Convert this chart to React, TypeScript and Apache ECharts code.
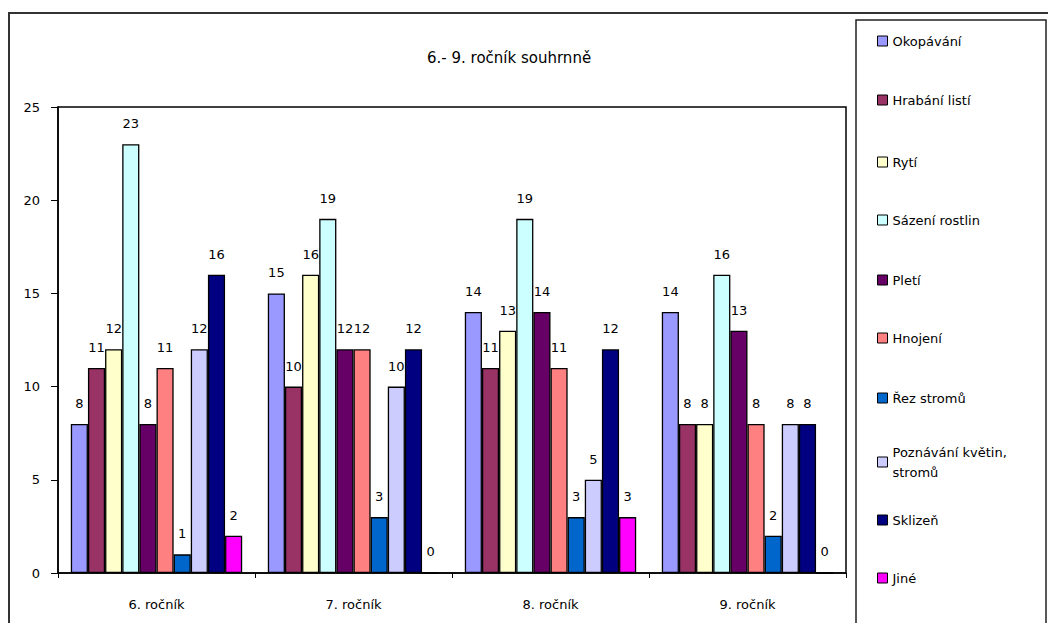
import React, { useEffect, useRef } from "react";
import * as echarts from "echarts";

const categories = ["6. ročník", "7. ročník", "8. ročník", "9. ročník"];
const seriesNames = [
  "Okopávání",
  "Hrabání listí",
  "Rytí",
  "Sázení rostlin",
  "Pletí",
  "Hnojení",
  "Řez stromů",
  "Poznávání květin, stromů",
  "Sklizeň",
  "Jiné",
];
const okopavani = [8, 15, 14, 14];
const hrabani = [11, 10, 11, 8];
const ryti = [12, 16, 13, 8];
const sazeni = [23, 19, 19, 16];
const pleti = [8, 12, 14, 13];
const hnojeni = [11, 12, 11, 8];
const rez = [1, 3, 3, 2];
const poznavani = [12, 10, 5, 8];
const sklizen = [16, 12, 12, 8];
const jine = [2, 0, 3, 0];
const seriesValues = [okopavani, hrabani, ryti, sazeni, pleti, hnojeni, rez, poznavani, sklizen, jine];
const colors = ["#9999FF", "#993366", "#FFFFCC", "#CCFFFF", "#660066", "#FF8080", "#0066CC", "#CCCCFF", "#000080", "#FF00FF"];
const yTicks = [0, 5, 10, 15, 20, 25];
const title = "6.- 9. ročník souhrnně";

const FONT = "DejaVu Sans";

export default function App() {
  const ref = useRef<HTMLDivElement>(null);
  useEffect(() => {
    if (!ref.current) return;
    const chart = echarts.init(ref.current, undefined, { renderer: "svg" });
    const legendCenters = [41, 100, 162, 220, 280, 338, 398, 462, 520, 578];
    const legends = seriesNames.map((name, i) => {
      const two = name.indexOf(",") >= 0;
      return {
        data: [name],
        orient: "vertical",
        left: 877,
        top: two ? legendCenters[i] - 30 : legendCenters[i] - 8,
        itemWidth: 10,
        itemHeight: 10,
        itemGap: 0,
        padding: 0,
        icon: "rect",
        selectedMode: false,
        itemStyle: { borderColor: "#000", borderWidth: 1 },
        formatter: (n: string) => (n.indexOf(",") >= 0 ? n.replace(", ", ",\n") : n),
        textStyle: two
          ? { fontFamily: FONT, fontSize: 13, color: "#000", lineHeight: 20, padding: [20, 0, 0, 0] }
          : { fontFamily: FONT, fontSize: 13, color: "#000", lineHeight: 16 },
      };
    });
    chart.setOption({
      animation: false,
      backgroundColor: "#fff",
      textStyle: { fontFamily: FONT },
      title: {
        text: title,
        left: 427,
        top: 50,
        padding: 0,
        textStyle: { fontFamily: FONT, fontSize: 15, fontWeight: "normal", color: "#000" },
      },
      legend: legends,
      graphic: [
        {
          type: "rect",
          shape: { x: 9, y: 13, width: 1100, height: 700 },
          style: { fill: "none", stroke: "#333", lineWidth: 2 },
          silent: true,
        },
        {
          type: "rect",
          shape: { x: 856, y: 20, width: 190, height: 610 },
          style: { fill: "none", stroke: "#222", lineWidth: 1.5 },
          silent: true,
        },
      ],
      grid: {
        left: 58,
        right: 202,
        top: 107,
        bottom: 50,
        show: true,
        borderColor: "#000",
        borderWidth: 1.5,
        backgroundColor: "transparent",
      },
      xAxis: {
        type: "category",
        data: categories,
        axisLine: { lineStyle: { color: "#000", width: 1.5 } },
        axisTick: { show: true, length: 5, lineStyle: { color: "#000" } },
        axisLabel: { color: "#000", fontSize: 13, fontFamily: FONT, margin: 25 },
      },
      yAxis: {
        type: "value",
        min: yTicks[0],
        max: yTicks[yTicks.length - 1],
        interval: 5,
        axisLine: { show: true, lineStyle: { color: "#000", width: 1.5 } },
        axisTick: { show: true, length: 7, lineStyle: { color: "#000" } },
        splitLine: { show: false },
        axisLabel: { color: "#000", fontSize: 13, fontFamily: FONT, margin: 18 },
      },
      series: seriesNames.map((name, i) => ({
        name,
        type: "bar",
        data: seriesValues[i],
        barGap: "0%",
        barCategoryGap: "13%",
        itemStyle: { color: colors[i], borderColor: "#000", borderWidth: 1.3 },
        label: {
          show: true,
          position: "top",
          distance: 14,
          color: "#000",
          fontSize: 13,
          fontFamily: FONT,
        },
      })),
    });
    return () => chart.dispose();
  }, []);
  return (
    <div
      ref={ref}
      style={{ position: "fixed", left: 0, top: 0, width: 1048, height: 623, background: "#fff" }}
    />
  );
}
